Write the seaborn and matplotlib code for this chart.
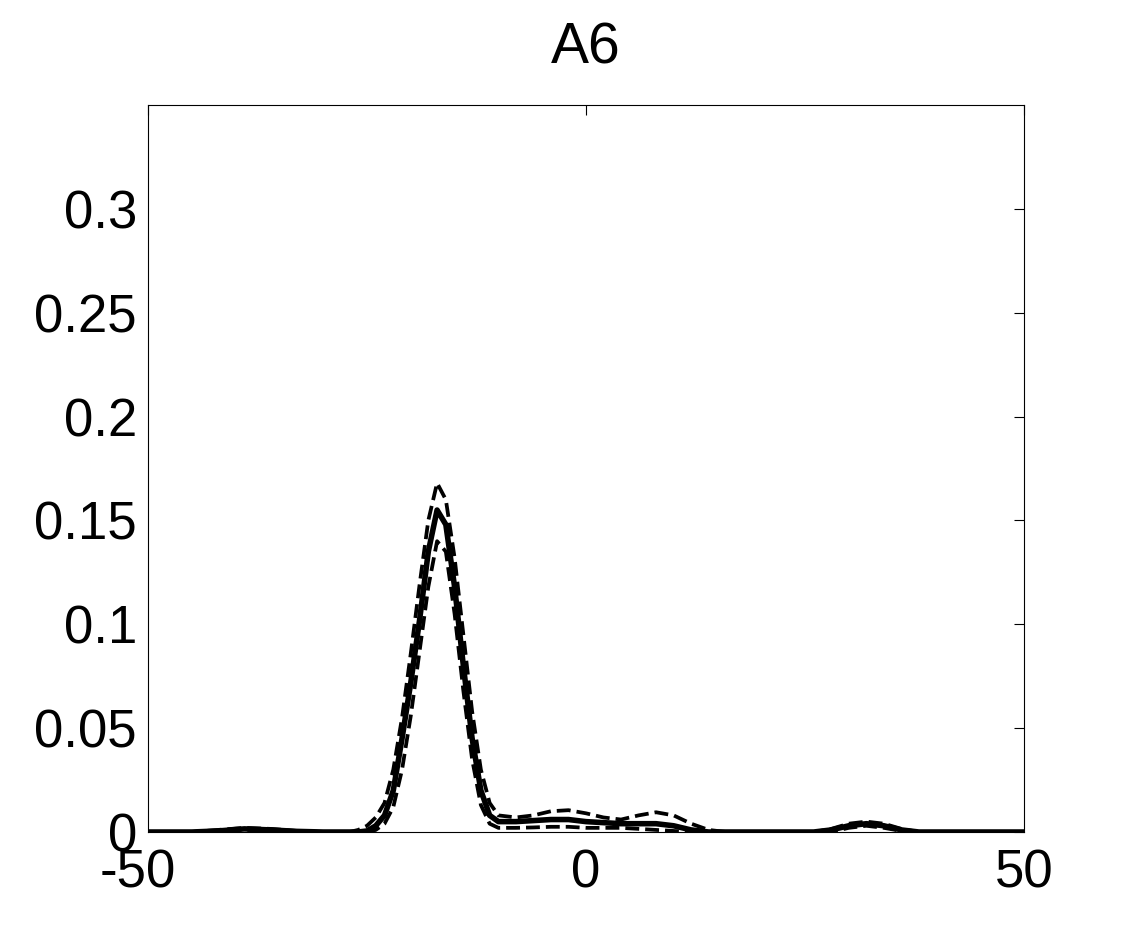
import numpy as np
import pandas as pd
import seaborn as sns
import matplotlib.pyplot as plt
from matplotlib.transforms import ScaledTranslation

# grid positions (shared by the three curves)
x = [-50, -45, -42, -39, -36, -33, -30, -28, -27, -26, -25, -24, -23, -22, -21,
     -20, -19, -18, -17, -16, -15, -14, -13, -12, -11, -10, -8, -6, -4, -2,
     0, 2, 4, 6, 8, 10, 12, 14, 16, 20, 24, 26, 28, 30, 32, 34, 36, 38, 42, 46, 50]

# posterior median (solid)
median = [0, 0, 0.0005, 0.0015, 0.001, 0.0003, 0, 0, 0, 0, 0.0005, 0.003, 0.008, 0.02, 0.045,
          0.072, 0.102, 0.135, 0.155, 0.148, 0.118, 0.08, 0.045, 0.02, 0.008, 0.005, 0.005, 0.0055, 0.006, 0.006,
          0.005, 0.0045, 0.004, 0.004, 0.004, 0.003, 0.001, 0, 0, 0, 0, 0, 0.001, 0.003, 0.004, 0.003, 0.001, 0, 0, 0, 0]

# upper band (dashed)
upper = [0, 0, 0.001, 0.002, 0.0015, 0.0005, 0, 0, 0, 0.001, 0.003, 0.007, 0.014, 0.03, 0.055,
         0.086, 0.119, 0.15, 0.168, 0.16, 0.132, 0.095, 0.058, 0.03, 0.014, 0.008, 0.007, 0.008, 0.01, 0.0105,
         0.009, 0.007, 0.006, 0.008, 0.0095, 0.008, 0.004, 0.001, 0, 0, 0, 0, 0.0015, 0.004, 0.005, 0.004, 0.0015, 0, 0, 0, 0]

# lower band (dashed)
lower = [0, 0, 0, 0.0005, 0.0003, 0, 0, 0, 0, 0, 0, 0.001, 0.004, 0.012, 0.03,
         0.056, 0.087, 0.118, 0.14, 0.135, 0.105, 0.068, 0.035, 0.013, 0.004, 0.002, 0.002, 0.0022, 0.0025, 0.0025,
         0.002, 0.002, 0.002, 0.0015, 0.001, 0.0005, 0, 0, 0, 0, 0, 0, 0, 0.002, 0.003, 0.002, 0.0005, 0, 0, 0, 0]

xticks = [-50, 0, 50]
yticks = [0, 0.05, 0.1, 0.15, 0.2, 0.25, 0.3]
yticklabels = ['0', '0.05', '0.1', '0.15', '0.2', '0.25', '0.3']

sns.set_style('white')
plt.rcParams['font.family'] = ['Liberation Sans', 'DejaVu Sans']
plt.rcParams['text.color'] = 'black'
plt.rcParams['axes.labelcolor'] = 'black'

fig = plt.figure(figsize=(11.32, 9.36), dpi=100)
ax = fig.add_axes([148/1132, 1 - 832/936, (1024-148)/1132, (832-105)/936])

sns.lineplot(x=x, y=upper, ax=ax, color='black', linewidth=2.7, linestyle='--')
sns.lineplot(x=x, y=lower, ax=ax, color='black', linewidth=2.7, linestyle='--')
sns.lineplot(x=x, y=median, ax=ax, color='black', linewidth=4.0)

ax.set_xlim(-50, 50)
ax.set_ylim(0, 0.35)
ax.set_xticks(xticks)
ax.set_xticklabels([str(t) for t in xticks])
ax.set_yticks(yticks)
ax.set_yticklabels(yticklabels)
ax.tick_params(axis='both', direction='in', length=7, width=0.8, top=True, right=True,
               labelsize=38, colors='black')
ax.tick_params(axis='x', pad=12)
ax.tick_params(axis='y', pad=8)
for s in ax.spines.values():
    s.set_visible(True)
    s.set_color('black')
    s.set_linewidth(0.8)

# nudge the -50 label left like the original
lab = ax.get_xticklabels()[0]
lab.set_transform(lab.get_transform() + ScaledTranslation(-0.1, 0, fig.dpi_scale_trans))

ax.set_title('A6', fontsize=41, pad=30, color='black')

plt.savefig('out.png', dpi=100)
